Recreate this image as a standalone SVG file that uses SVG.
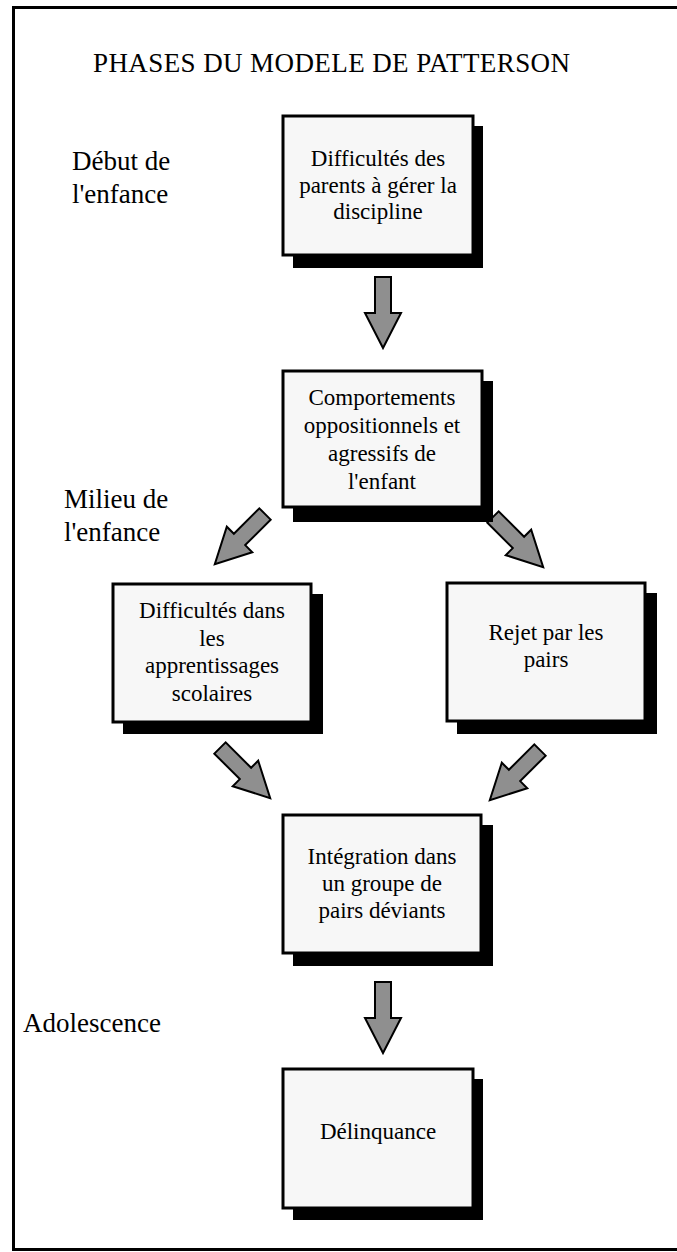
<svg xmlns="http://www.w3.org/2000/svg" width="677" height="1252" viewBox="0 0 677 1252">
  <style>
    .frame { fill: none; stroke: #000; stroke-width: 3; }
    .box { fill: #f7f7f7; stroke: #000; stroke-width: 3; }
    .shadow { fill: #000; }
    .arrow { fill: #8f8f8f; stroke: #000; stroke-width: 2; stroke-linejoin: miter; }
    text { font-family: "Liberation Serif", "Times New Roman", serif; fill: #000; }
    .node text { font-size: 23px; text-anchor: middle; }
    .label { font-size: 27px; }
    .title { font-size: 27px; }
  </style>
  <defs>
    <!-- block arrow drawn from tail centre (0,0) pointing down -->
    <path id="blockArrow" class="arrow" d="M-8,0 H8 V36 H18 L0,71 L-18,36 H-8 Z"/>
  </defs>

  <rect width="677" height="1252" fill="#fff"/>
  <rect class="frame" x="13.5" y="7.5" width="680" height="1242"/>

  <text class="title" x="93" y="72" textLength="477">PHASES DU MODELE DE PATTERSON</text>

  <g id="phase-labels">
    <text class="label" x="72" y="170">Début de</text>
    <text class="label" x="72" y="203">l'enfance</text>
    <text class="label" x="64" y="508">Milieu de</text>
    <text class="label" x="64" y="541">l'enfance</text>
    <text class="label" x="23" y="1032">Adolescence</text>
  </g>

  <g id="connectors">
    <use href="#blockArrow" transform="translate(383,277)"/>
    <use href="#blockArrow" transform="translate(265,514) rotate(45)"/>
    <use href="#blockArrow" transform="translate(493,517) rotate(-45)"/>
    <use href="#blockArrow" transform="translate(220,748) rotate(-45)"/>
    <use href="#blockArrow" transform="translate(540,750) rotate(45)"/>
    <use href="#blockArrow" transform="translate(383,982)"/>
  </g>

  <g id="node-parents" class="node">
    <rect class="shadow" x="293" y="126" width="190" height="142"/>
    <rect class="box" x="283" y="116" width="190" height="139"/>
    <text x="378" y="166">Difficultés des</text>
    <text x="378" y="193">parents à gérer la</text>
    <text x="378" y="219">discipline</text>
  </g>

  <g id="node-comportements" class="node">
    <rect class="shadow" x="293" y="381" width="200" height="141"/>
    <rect class="box" x="283" y="371" width="199" height="136"/>
    <text x="382" y="405">Comportements</text>
    <text x="382" y="433">oppositionnels et</text>
    <text x="382" y="461">agressifs de</text>
    <text x="382" y="489">l'enfant</text>
  </g>

  <g id="node-apprentissages" class="node">
    <rect class="shadow" x="123" y="594" width="200" height="140"/>
    <rect class="box" x="113" y="584" width="198" height="138"/>
    <text x="212" y="618">Difficultés dans</text>
    <text x="212" y="645.5">les</text>
    <text x="212" y="673">apprentissages</text>
    <text x="212" y="700.5">scolaires</text>
  </g>

  <g id="node-rejet" class="node">
    <rect class="shadow" x="457" y="593" width="200" height="141"/>
    <rect class="box" x="447" y="583" width="198" height="138"/>
    <text x="546" y="640">Rejet par les</text>
    <text x="546" y="667">pairs</text>
  </g>

  <g id="node-integration" class="node">
    <rect class="shadow" x="293" y="825" width="200" height="141"/>
    <rect class="box" x="283" y="815" width="198" height="138"/>
    <text x="382" y="864">Intégration dans</text>
    <text x="382" y="891">un groupe de</text>
    <text x="382" y="918">pairs déviants</text>
  </g>

  <g id="node-delinquance" class="node">
    <rect class="shadow" x="293" y="1079" width="190" height="141"/>
    <rect class="box" x="283" y="1069" width="190" height="139"/>
    <text x="378" y="1139">Délinquance</text>
  </g>
</svg>
